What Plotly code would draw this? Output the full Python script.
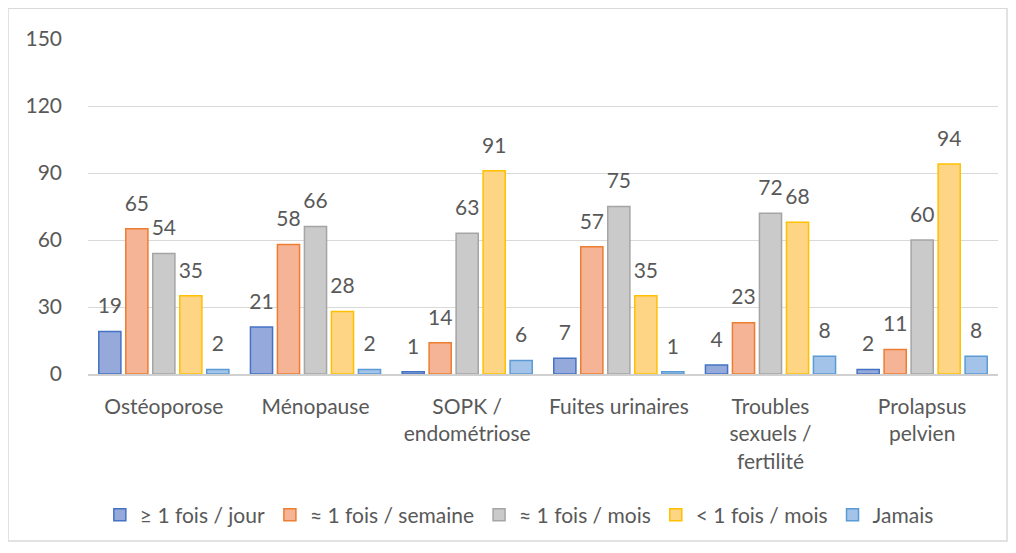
import plotly.graph_objects as go

categories = ["Ostéoporose", "Ménopause", "SOPK /<br>endométriose", "Fuites urinaires",
              "Troubles<br>sexuels /<br>fertilité", "Prolapsus<br>pelvien"]
series_names = ["≥ 1 fois / jour", "≈ 1 fois / semaine", "≈ 1 fois / mois", "< 1 fois / mois", "Jamais"]
jour = [19, 21, 1, 7, 4, 2]
semaine = [65, 58, 14, 57, 23, 11]
mois = [54, 66, 63, 75, 72, 60]
moins_mois = [35, 28, 91, 35, 68, 94]
jamais = [2, 2, 6, 1, 8, 8]
y_ticks = [0, 30, 60, 90, 120, 150]

fills = ["#95aadb", "#f5b496", "#cacaca", "#fed584", "#a3c4e8"]
borders = ["#4472c4", "#ed7d31", "#a5a5a5", "#ffc000", "#5b9bd5"]
font_name = "Lato, Noto Sans, sans-serif"
grey_txt = "#595959"
label_pad = 5  # space between bar top and its label, in axis units

fig = go.Figure()
for i, (name, vals, fc, bc) in enumerate(zip(series_names, [jour, semaine, mois, moins_mois, jamais], fills, borders)):
    fig.add_trace(go.Bar(
        x=categories, y=vals, name=name, offsetgroup=str(i),
        marker=dict(color=fc, line=dict(color=bc, width=1.5)),
    ))
    # invisible spacer bar on top that carries the data label
    fig.add_trace(go.Bar(
        x=categories, y=[label_pad] * len(vals), base=vals, offsetgroup=str(i), showlegend=False,
        marker=dict(color="rgba(0,0,0,0)", line=dict(width=0)), hoverinfo="skip",
        text=vals, textposition="outside", constraintext="none", cliponaxis=False,
        textfont=dict(size=21, color=grey_txt, family=font_name),
    ))

fig.update_layout(
    width=1000, height=537,
    margin=dict(l=80, r=10, t=31, b=169),
    paper_bgcolor="white", plot_bgcolor="white",
    font=dict(family=font_name, color=grey_txt, size=21),
    barmode="group", bargap=0.11, bargroupgap=0.18,
    showlegend=True,
    legend=dict(orientation="h", x=0.474, xanchor="center", y=-0.421, yanchor="middle",
                font=dict(size=21, color=grey_txt), itemwidth=30, traceorder="normal"),
    yaxis=dict(range=[0, 150], tickvals=y_ticks, showgrid=True, gridcolor="#d9d9d9", gridwidth=1,
               zeroline=False, showline=False, tickfont=dict(size=21), ticklabelstandoff=25),
    xaxis=dict(showline=True, linecolor="#d0d0d0", linewidth=1.5, tickfont=dict(size=21),
               ticks="", ticklabelstandoff=13),
    shapes=[dict(type="rect", xref="paper", yref="paper", x0=-0.0879, x1=1.0099, y0=-0.4985, y1=1.092,
                 line=dict(color="#d9d9d9", width=1.5), fillcolor="rgba(0,0,0,0)")],
)

fig.write_html("out.html")
